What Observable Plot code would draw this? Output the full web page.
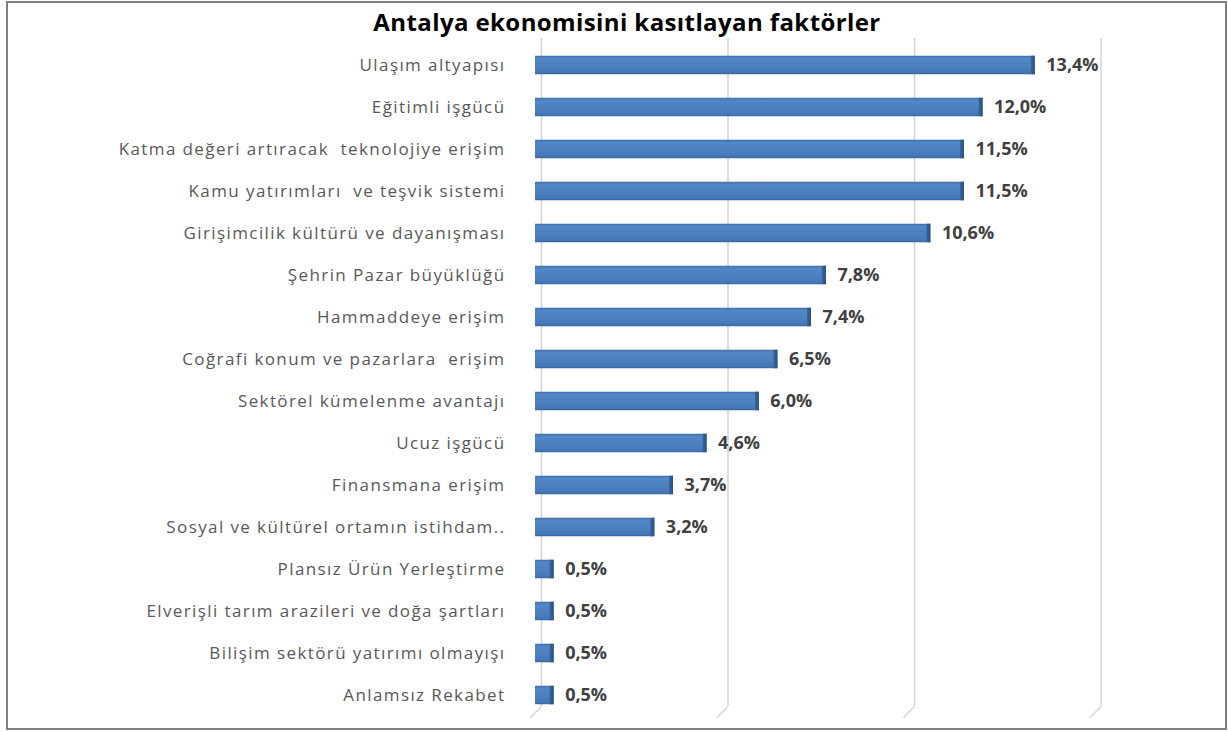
<!DOCTYPE html>
<html>
<head>
<meta charset="utf-8">
<script src="https://cdn.jsdelivr.net/npm/d3@7"></script>
<script src="https://cdn.jsdelivr.net/npm/@observablehq/plot@0.6"></script>
<style>
  body { margin: 0; background: #fff; }
  #wrap { position: relative; width: 1228px; height: 732px; overflow: hidden; }
  #frame { position: absolute; left: 6px; top: 1px; width: 1221px; height: 729px; box-sizing: border-box; border: 2px solid #7f7f7f; }
  #title { position: absolute; left: 13px; top: 5px; width: 1228px; text-align: center; font-family: "Open Sans", sans-serif; font-weight: 700; font-size: 24px; line-height: 34px; color: #000; letter-spacing: 0.4px; }
  #chart { position: absolute; left: 0; top: 36px; }
</style>
</head>
<body>
<div id="wrap">
  <div id="frame"></div>
  <div id="title">Antalya ekonomisini kasıtlayan faktörler</div>
  <div id="chart"></div>
</div>
<script>
const categories = [
  "Ulaşım altyapısı",
  "Eğitimli işgücü",
  "Katma değeri artıracak  teknolojiye erişim",
  "Kamu yatırımları  ve teşvik sistemi",
  "Girişimcilik kültürü ve dayanışması",
  "Şehrin Pazar büyüklüğü",
  "Hammaddeye erişim",
  "Coğrafi konum ve pazarlara  erişim",
  "Sektörel kümelenme avantajı",
  "Ucuz işgücü",
  "Finansmana erişim",
  "Sosyal ve kültürel ortamın istihdam..",
  "Plansız Ürün Yerleştirme",
  "Elverişli tarım arazileri ve doğa şartları",
  "Bilişim sektörü yatırımı olmayışı",
  "Anlamsız Rekabet"
];
const values = [13.4, 12.0, 11.5, 11.5, 10.6, 7.8, 7.4, 6.5, 6.0, 4.6, 3.7, 3.2, 0.5, 0.5, 0.5, 0.5];
const gridTicks = [0, 5, 10, 15];

const n = categories.length;
const data = categories.map((c, i) => ({i, category: c, value: values[i]}));
const fmt = d => d.value.toFixed(1).replace(".", ",") + "%";

const chart = Plot.plot({
  width: 1228,
  height: 696,
  marginLeft: 535,
  marginRight: 133.5,
  marginTop: 8,
  marginBottom: 16,
  x: {domain: [0, 15], axis: null},
  y: {domain: [n - 0.5, -0.5], axis: null},
  style: {fontFamily: "'Open Sans', sans-serif", background: "transparent", overflow: "visible"},
  marks: [
    Plot.ruleX(gridTicks, {x: d => d, y1: -0.64, y2: n - 0.74, stroke: "#d4d4d4", strokeWidth: 1.5, dx: 6}),
    Plot.link(gridTicks, {x1: d => d, x2: d => d - 0.3, y1: n - 0.74, y2: n - 0.47, stroke: "#d4d4d4", strokeWidth: 1.5, dx: 6}),
    Plot.rectX(data, {x1: 0, x2: "value", y1: d => d.i - 0.22, y2: d => d.i + 0.22, fill: "url(#barGrad)"}),
    Plot.rectX(data, {x1: "value", x2: "value", y1: d => d.i - 0.22, y2: d => d.i + 0.22, insetLeft: -4, fill: "url(#capGrad)"}),
    Plot.text(data, {x: "value", y: "i", text: fmt, dx: 11, textAnchor: "start", fontWeight: "bold", fontSize: 18, fill: "#404040"}),
    Plot.text(data, {frameAnchor: "left", y: "i", text: "category", dx: -30, textAnchor: "end", fontSize: 17, fill: "#595959"})
  ]
});

d3.select(chart).selectAll("text")
  .filter(function() { return categories.includes(this.textContent); })
  .style("letter-spacing", "1.4px")
  .style("white-space", "pre");

d3.select(chart).insert("defs", ":first-child").html(`
  <linearGradient id="barGrad" x1="0" y1="0" x2="0" y2="1">
    <stop offset="0" stop-color="#3c6aa3"/>
    <stop offset="0.12" stop-color="#5287c6"/>
    <stop offset="0.6" stop-color="#4c80bf"/>
    <stop offset="0.9" stop-color="#4576b4"/>
    <stop offset="1" stop-color="#36619a"/>
  </linearGradient>
  <linearGradient id="capGrad" x1="0" y1="0" x2="1" y2="0">
    <stop offset="0" stop-color="#3a66a0"/>
    <stop offset="1" stop-color="#28507f"/>
  </linearGradient>
`);

document.getElementById("chart").appendChild(chart);
</script>
</body>
</html>
